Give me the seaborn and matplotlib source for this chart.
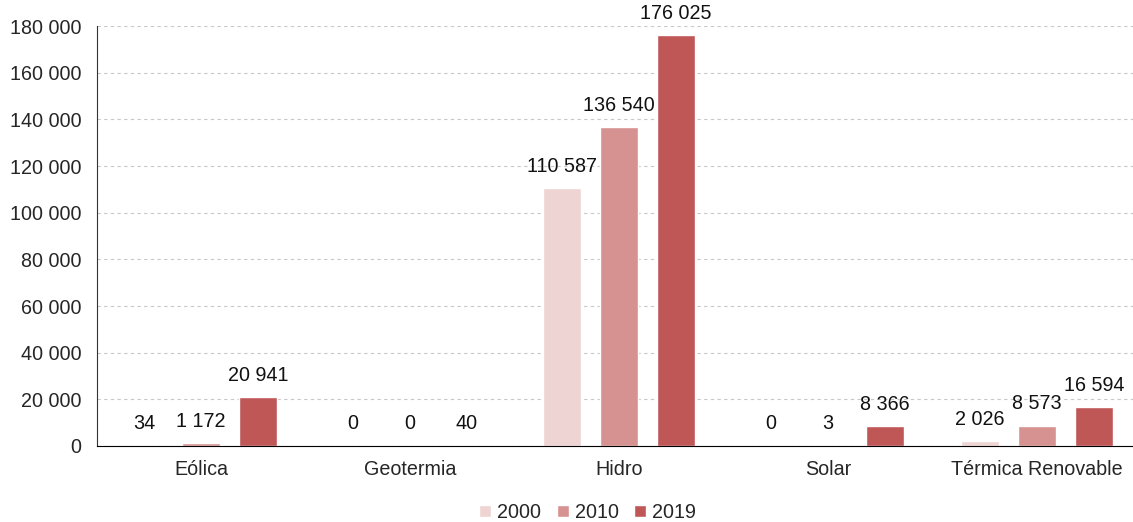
import matplotlib
matplotlib.use("Agg")
import matplotlib.pyplot as plt
import pandas as pd
import seaborn as sns
from matplotlib.ticker import FuncFormatter

categories = ["Eólica", "Geotermia", "Hidro", "Solar", "Térmica Renovable"]
years = ["2000", "2010", "2019"]
v2000 = [34, 0, 110587, 0, 2026]
v2010 = [1172, 0, 136540, 3, 8573]
v2019 = [20941, 40, 176025, 8366, 16594]
colors = ["#EED4D2", "#D69290", "#C05757"]


def fmt(v, pos=None):
    return "{:,.0f}".format(v).replace(",", " ")


df = pd.DataFrame({
    "cat": categories * 3,
    "year": [y for y in years for _ in categories],
    "val": v2000 + v2010 + v2019,
})

sns.set_style("white")
plt.rcParams["font.family"] = ["Liberation Sans", "DejaVu Sans"]
fs = 14.2
plt.rcParams["font.size"] = fs

fig, ax = plt.subplots(figsize=(11.33, 5.22), dpi=100)
sns.barplot(data=df, x="cat", y="val", hue="year", order=categories,
            hue_order=years, palette=colors, width=0.818, gap=0.333,
            saturation=1, ax=ax)

for cont in ax.containers:
    ax.bar_label(cont, labels=[fmt(b.get_height()) for b in cont],
                 padding=9, fontsize=fs, color="#111111")

ax.set_ylim(0, 180000)
ax.set_yticks(range(0, 180001, 20000))
ax.yaxis.set_major_formatter(FuncFormatter(fmt))
ax.grid(axis="y", linestyle=(0, (3, 3)), color="#C8C8C8", linewidth=0.8)
ax.set_axisbelow(True)
ax.set_xlabel("")
ax.set_ylabel("")
for s in ["top", "right"]:
    ax.spines[s].set_visible(False)
ax.spines["left"].set_color("#333333")
ax.spines["bottom"].set_color("#000000")
ax.tick_params(axis="y", length=5, color="#555555", labelsize=fs, pad=6)
ax.tick_params(axis="x", length=5, color="#777777", labelsize=fs, pad=5)
ax.set_xlim(-0.5, 4.5)

leg = ax.legend(loc="upper center", bbox_to_anchor=(0.47, -0.093), ncol=3,
                frameon=False, handlelength=0.6, handleheight=0.6,
                handletextpad=0.3, columnspacing=0.8, fontsize=fs)

fig.subplots_adjust(left=0.0852, right=1.0075, top=0.95, bottom=0.1456)
fig.savefig("out.png", dpi=100)
